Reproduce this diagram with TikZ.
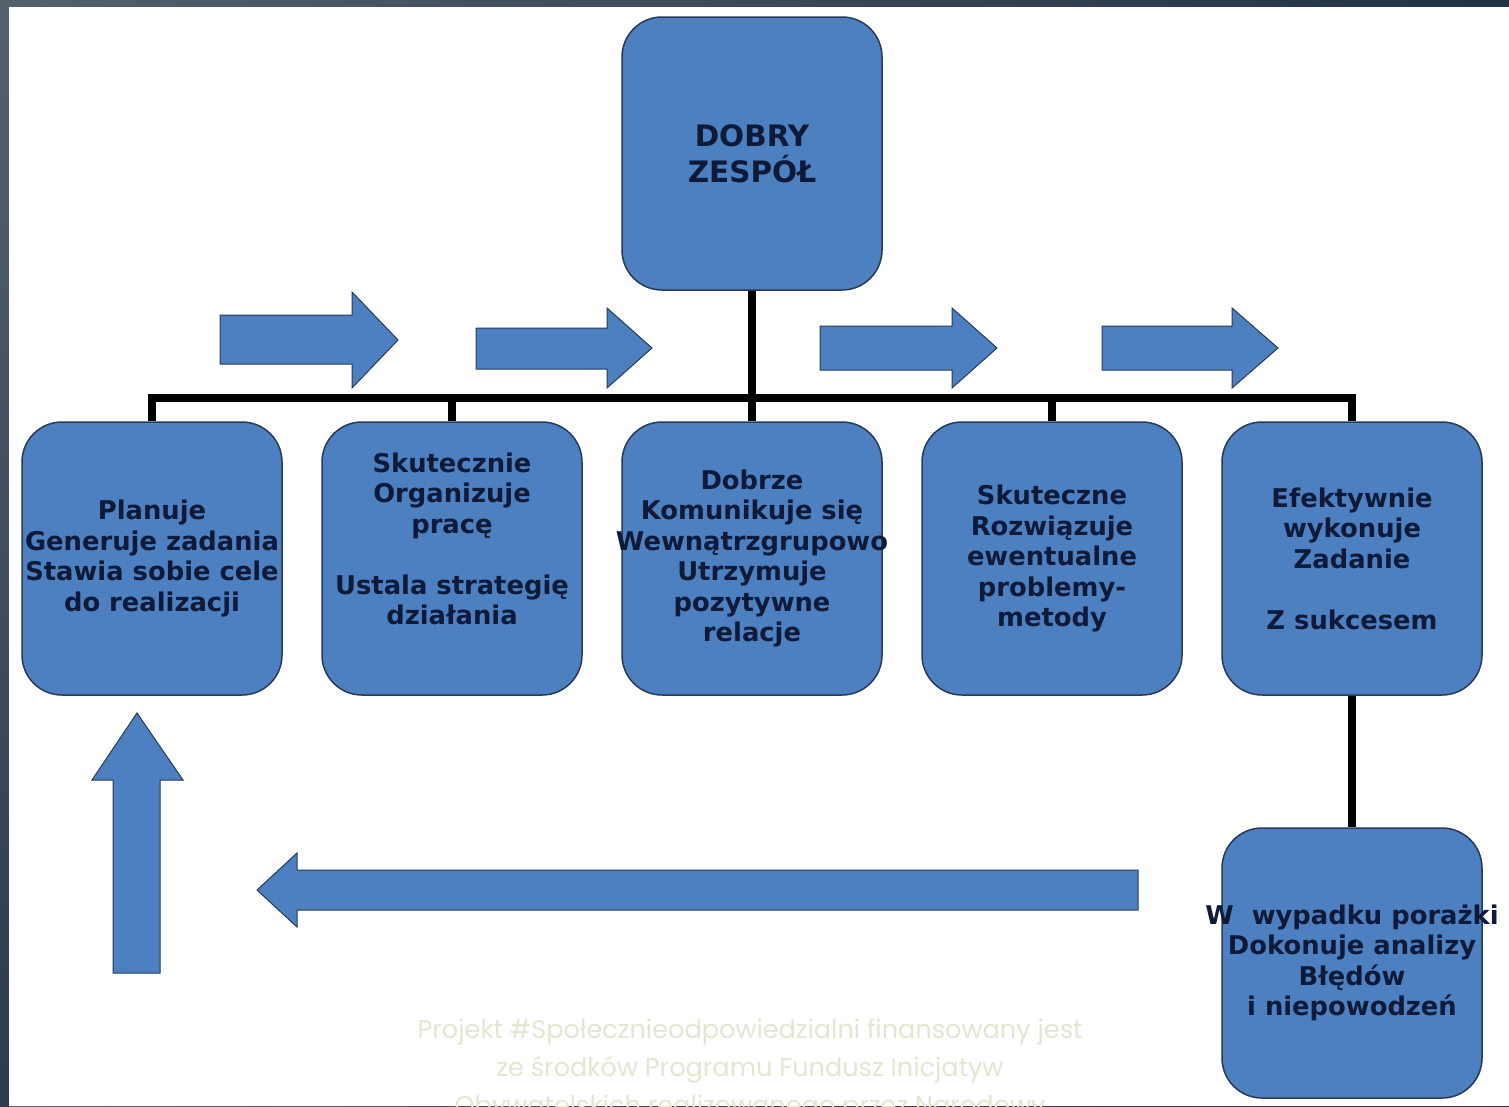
\documentclass[tikz,border=0pt]{standalone}
\usepackage{fontspec}
\setmainfont{DejaVu Sans}
\newfontfamily\footfont{Poppins}
\definecolor{boxblue}{RGB}{76,128,192}
\definecolor{boxline}{RGB}{40,58,88}
\definecolor{txtnavy}{RGB}{14,26,56}
\definecolor{frameA}{RGB}{84,96,108}
\definecolor{frameB}{RGB}{34,50,70}
\definecolor{footgreen}{RGB}{226,232,208}
\begin{document}
\begin{tikzpicture}[x=1pt,y=-1pt,
  teambox/.style={draw=boxline,line width=1.5pt,fill=boxblue,rounded corners=40pt,
    minimum width=260pt,minimum height=273pt,inner sep=0pt},
  boxtext/.style={inner sep=0pt,align=center,text=txtnavy,
    font=\bfseries\fontsize{25.8}{30.5}\selectfont},
  link/.style={draw=black,line width=8pt},
  blockarrow/.style={fill=boxblue,draw=boxline,line width=1pt,line join=miter}]
\useasboundingbox (0,0) rectangle (1509,1106);
% frame
\shade[left color=frameA,right color=frameB] (0,0) rectangle (1509,1106);
\shade[top color=frameA,bottom color=frameB!80!frameA] (0,0) rectangle (9,1106);
\fill[white] (9,7) rectangle (1509,1106);

% boxes
\node[teambox] (top) at (752,153.5) {};
\node[teambox] (b1) at (152,558.5) {};
\node[teambox] (b2) at (452,558.5) {};
\node[teambox] (b3) at (752,558.5) {};
\node[teambox] (b4) at (1052,558.5) {};
\node[teambox] (b5) at (1352,558.5) {};
\node[teambox,minimum height=270pt] (b6) at (1352,963) {};

% box texts
\node[boxtext,font=\bfseries\fontsize{29.5}{36}\selectfont] (topt) at (top) {DOBRY\\ZESPÓŁ};
\node[boxtext] (b1t) at (b1) {Planuje\\Generuje zadania\\Stawia sobie cele\\do realizacji};
\node[boxtext] (b2t) at (b2) {Skutecznie\\Organizuje\\pracę\\\strut\\Ustala strategię\\działania\\\strut};
\node[boxtext] (b3t) at (b3) {Dobrze\\Komunikuje się\\Wewnątrzgrupowo\\Utrzymuje\\pozytywne\\relacje};
\node[boxtext] (b4t) at (b4) {Skuteczne\\Rozwiązuje\\ewentualne\\problemy-\\metody};
\node[boxtext] (b5t) at (b5) {Efektywnie\\wykonuje\\Zadanie\\\strut\\Z sukcesem};
\node[boxtext] (b6t) at (b6) {W\ \ wypadku porażki\\Dokonuje analizy\\Błędów\\i niepowodzeń};

% connectors
\coordinate (bar) at (752,398);
\draw[link] (top.south) -- (top.south |- bar);
\draw[link,line cap=butt] (b1.north) -- (b1.north |- bar) -- (b5.north |- bar) -- (b5.north);
\draw[link] (b2.north |- bar) -- (b2.north);
\draw[link] (b3.north |- bar) -- (b3.north);
\draw[link] (b4.north |- bar) -- (b4.north);
\draw[link] (b5.south) -- (b6.north);

% block arrows (right)
\draw[blockarrow] (220,315) -- (352,315) -- (352,292) -- (398,340) -- (352,388) -- (352,364) -- (220,364) -- cycle;
\draw[blockarrow] (476,328) -- (607,328) -- (607,308) -- (652,348) -- (607,388) -- (607,369) -- (476,369) -- cycle;
\draw[blockarrow] (820,326) -- (952,326) -- (952,308) -- (997,348) -- (952,388) -- (952,370) -- (820,370) -- cycle;
\draw[blockarrow] (1102,326) -- (1232,326) -- (1232,308) -- (1278,348) -- (1232,388) -- (1232,370) -- (1102,370) -- cycle;
% up arrow
\draw[blockarrow] (113,973) -- (113,780) -- (92,780) -- (137,713) -- (183,780) -- (160,780) -- (160,973) -- cycle;
% left arrow
\draw[blockarrow] (1138,870) -- (297,870) -- (297,853) -- (257,890) -- (297,927) -- (297,910) -- (1138,910) -- cycle;

% footer
\begin{scope}
\clip (9,7) rectangle (1509,1106);
\node[text=footgreen,font=\footfont\fontsize{25.6}{38}\selectfont,align=center,anchor=north] (foot) at (750,1015)
 {Projekt \#Społecznieodpowiedzialni finansowany jest\\ze środków Programu Fundusz Inicjatyw\\Obywatelskich realizowanego przez Narodowy};
\end{scope}
\end{tikzpicture}
\end{document}
